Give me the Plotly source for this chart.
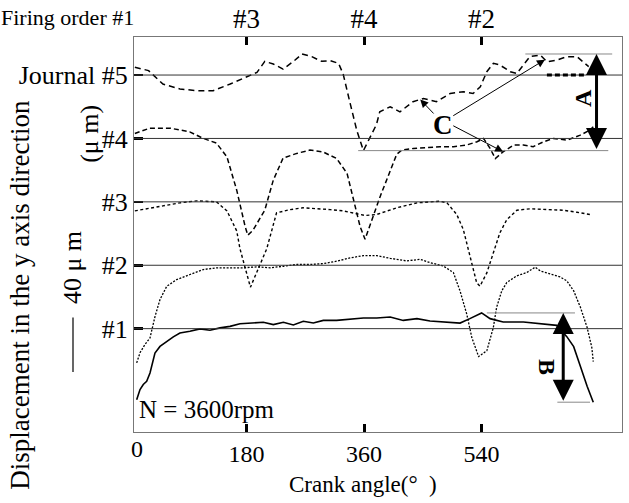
import numpy as np
import plotly.graph_objects as go

# ---------------- data (crank angle in deg, displacement in um relative to each journal baseline)
journal_labels = ["#1", "#2", "#3", "#4", "Journal #5"]
baseline_step = 50  # um between journal baselines
firing_ticks = [180, 360, 540]
firing_labels = ["#3", "#4", "#2"]
crank_ticks = [180, 360, 540]

x1 = [11.8, 16.9, 21.9, 27.1, 32.2, 39.8, 47.5, 57.8, 67.9, 78, 93.4, 108.8, 124, 139.4, 154.7, 170, 185.4,
      205.7, 221, 236.4, 251.7, 267, 282.3, 297.6, 318, 338.5, 359, 379.4, 400, 420, 441, 461, 481.5, 507, 522,
      540, 553, 573, 604, 635, 655, 670.5, 681, 691.5, 701.6, 711]
y1 = [-56, -48, -44, -41.6, -35, -19.2, -14, -10, -6.5, -3.4, -2.1, -0.2, -1.3, 0.6, 1.8, 3.9, 4.5, 5, 3.2, 5,
      2.9, 5.8, 4.5, 6.5, 6.5, 7.6, 8.4, 8.4, 9.2, 6.5, 7.9, 6, 5.2, 4.4, 7.9, 12.4, 7.9, 5.2, 5.2, 3.9, 2.6,
      -6.3, -14.2, -30, -45.5, -58]

x2 = [11.8, 16.9, 24.5, 32.2, 39.8, 47.5, 57.8, 73, 93.4, 113.8, 134.3, 154.7, 175, 195.6, 216, 236.4, 257, 277,
      297.6, 318, 338.5, 359, 379.4, 400, 425.4, 445.8, 461, 481.5, 496.8, 507, 517.3, 525, 532.6, 535.4, 548,
      558, 563, 571, 578.6, 594, 609, 622, 630, 645, 660, 670.5, 681, 691.5, 701.6, 708.8, 711]
y2 = [-77, -69, -62.5, -57.3, -40.6, -27, -16.6, -11.3, -7.3, -3.4, -2, -2, -2, -1.3, -2, -0.8, 0.6, 0.6, 1.3,
      3.2, 5.8, 7.6, 7.6, 5.5, 3.4, 4.7, 2.1, -0.6, -5.8, -20.3, -38.6, -57, -67.4, -72, -67.4, -49, -33.2, -20,
      -13.6, -8.3, -5.8, -1.5, -4.5, -7.1, -9.2, -12.3, -20.2, -33.4, -49.1, -64.9, -76]

x3 = [9, 32, 52, 78, 104, 134, 150, 165, 170, 186, 197.6, 211, 226, 247, 266.5, 287.5, 308, 328, 349, 361.5,
      379, 410, 441, 476, 487, 502, 512, 522, 532.5, 537.5, 548, 558, 568, 578.6, 594, 614, 640, 665, 686, 706]
y3 = [-7.1, -4.7, -3.2, -0.8, 0.8, 0, -7.1, -22.9, -37, -67.3, -53, -37, -8.7, -6.1, -4.7, -5.3, -6.1, -7.1,
      -9.2, -10.8, -10, -4.7, -0.8, 0.5, -0.8, -10, -21.8, -42.9, -63.9, -66.5, -56, -40.2, -24.4, -14, -6.6,
      -5.5, -6, -6.6, -8.2, -10]

x4 = [9, 32, 63, 93, 113, 134, 150, 165, 178, 182, 190, 208, 221, 236, 257, 277, 297, 318, 334, 343, 354, 361.5,
      385, 410, 418, 435.5, 456, 476, 497, 517, 533, 543, 553, 561, 573, 589, 604, 619, 635, 650, 671, 691, 706,
      711]
y4 = [3.9, 8.1, 8.1, 5.2, 0.2, -3.7, -14.5, -40.8, -69.7, -76.3, -72.3, -56.5, -32.9, -15.5, -11.8, -9.2,
      -10.6, -15.8, -27.6, -46, -69.6, -79.5, -45.3, -12.5, -9.1, -7.9, -7.3, -6.5, -6.5, -5.2, -2.6, 0, -7.9,
      -15.8, -10.5, -5.2, -5.2, -6.5, -2.6, 0, -1.3, 2.6, 6.6, 9.2]

x5 = [9, 30, 52, 78, 104, 129, 155, 180, 196, 208, 221, 236, 252, 265, 280, 295, 308, 321, 328, 339, 349, 359,
      369, 379, 384, 400, 415, 435, 451, 471, 492, 512, 527, 538, 548, 558, 568, 584, 594, 604, 614, 630, 640,
      655, 671, 686, 696, 704]
y5 = [6.1, 3.5, -7.1, -11, -12.3, -12.3, -7.1, -1.8, 2.1, 10.8, 8.7, 4.7, 10.8, 16.6, 14.5, 10.8, 11.4, 9.2,
      0.8, -22.9, -43.9, -59.6, -49, -39, -29, -25, -29, -21, -18.5, -21, -14.5, -13.2, -14.5, -9.2, 2.6, 9.2,
      7.9, 2.6, 1.3, 7.9, 14.5, 15.8, 10.5, 11.8, 14.5, 14.5, 10.5, 6.6]

# ---------------- figure
FONT = "Liberation Serif"
series = [
    (x1, y1, "solid", 1.6),
    (x2, y2, "2px,1.5px", 1.3),
    (x3, y3, "3px,2.5px", 1.4),
    (x4, y4, "5px,3px", 1.5),
    (x5, y5, "6px,4px", 1.5),
]
bases = [i * baseline_step for i in range(5)]

fig = go.Figure()
for (xs, ys, dash, w), base in zip(series, bases):
    fig.add_trace(go.Scatter(x=xs, y=[base + v for v in ys], mode="lines",
                             line=dict(color="black", width=w, dash=dash),
                             showlegend=False, hoverinfo="skip"))
# invisible trace to carry the top (firing order) axis
fig.add_trace(go.Scatter(x=[firing_ticks[0]], y=[None], xaxis="x2", showlegend=False,
                         hoverinfo="skip"))

shapes = []
for b in bases:
    shapes.append(dict(type="line", xref="paper", x0=0, x1=1, yref="y", y0=b, y1=b,
                       line=dict(color="#333", width=1)))

b5 = bases[4]
a_top = b5 + max(y5)
a_bot = b5 + min(y5)
b_top = bases[0] + max(y1)
b_bot = bases[0] + min(y1)
guide = dict(color="#888", width=1)
shapes += [
    dict(type="line", xref="x", yref="y", x0=607, x1=740, y0=a_top, y1=a_top, line=guide),
    dict(type="line", xref="x", yref="y", x0=351, x1=734, y0=a_bot, y1=a_bot, line=guide),
    dict(type="line", xref="x", yref="y", x0=548, x1=683, y0=b_top, y1=b_top, line=guide),
    dict(type="line", xref="x", yref="y", x0=656, x1=706, y0=b_bot, y1=b_bot, line=guide),
    dict(type="line", xref="x", yref="y", x0=640, x1=701, y0=b5, y1=b5,
         line=dict(color="black", width=3, dash="5px,3px")),
    # 40 um scale bar
    dict(type="line", xref="paper", yref="paper", x0=-0.125, x1=-0.125, y0=0.152, y1=0.29,
         line=dict(color="black", width=1.2)),
]

annotations = [
    dict(text="0", xref="x", x=12, yref="paper", y=0, xanchor="center", yanchor="top", yshift=-2,
         showarrow=False, font=dict(size=24)),
    dict(text="Firing order #1", xref="paper", x=0.004, xanchor="right", yref="paper", y=1.05,
         yanchor="middle", showarrow=False, font=dict(size=22)),
    dict(text="N = 3600rpm", xref="paper", x=0.006, xanchor="left", yref="paper", y=0.0557,
         yanchor="middle", showarrow=False, font=dict(size=25)),
    dict(text="Crank angle(°  )", xref="paper", x=0.469, xanchor="center", yref="paper", y=-0.134,
         yanchor="middle", showarrow=False, font=dict(size=23)),
    dict(text="Displacement in the y axis direction", xref="paper", x=-0.234, xanchor="center",
         yref="paper", y=0.347, yanchor="middle", textangle=-90, showarrow=False, font=dict(size=27)),
    dict(text="40 μ m", xref="paper", x=-0.127, xanchor="center", yref="paper", y=0.415,
         yanchor="middle", textangle=-90, showarrow=False, font=dict(size=26)),
    dict(text="(μ m)", xref="paper", x=-0.09, xanchor="center", yref="paper", y=0.755,
         yanchor="middle", textangle=-90, showarrow=False, font=dict(size=26)),
    dict(text="<b>C</b>", xref="x", x=481, yref="y", y=160.7, showarrow=False, font=dict(size=27)),
    dict(text="<b>A</b>", xref="x", x=695.5, yref="y", y=182, textangle=-90, showarrow=False,
         font=dict(size=24)),
    dict(text="<b>B</b>", xref="x", x=640, yref="y", y=-30.2, textangle=90, showarrow=False,
         font=dict(size=24)),
    # double arrows A and B
    dict(text="", xref="x", yref="y", x=716, y=a_top, axref="x", ayref="y", ax=716, ay=a_bot,
         showarrow=True, arrowside="end+start", arrowhead=2, startarrowhead=2, arrowwidth=3,
         arrowsize=1.4, startarrowsize=1.4, arrowcolor="black"),
    dict(text="", xref="x", yref="y", x=665, y=b_top, axref="x", ayref="y", ax=665, ay=b_bot,
         showarrow=True, arrowside="end+start", arrowhead=2, startarrowhead=2, arrowwidth=3,
         arrowsize=1.4, startarrowsize=1.4, arrowcolor="black"),
]
# C arrows pointing at curve features
for ang, xs, ys, base, tail in [(446, x5, y5, b5, (468.7, 168.5)),
                                (637, x5, y5, b5, (494.3, 167.2)),
                                (573, x4, y4, bases[3], (494.3, 160.6))]:
    tip_y = base + float(np.interp(ang, xs, ys))
    annotations.append(dict(text="", xref="x", yref="y", x=ang, y=tip_y, axref="x", ayref="y",
                            ax=tail[0], ay=tail[1], showarrow=True, arrowhead=2, arrowsize=1.6,
                            arrowwidth=1, arrowcolor="black"))

fig.update_layout(
    width=629, height=503,
    margin=dict(l=134, r=7, t=37, b=71, autoexpand=False),
    paper_bgcolor="white", plot_bgcolor="white",
    font=dict(family=FONT, color="black", size=23),
    xaxis=dict(range=[7.7, 755], tickvals=crank_ticks, ticktext=[str(t) for t in crank_ticks],
               ticks="inside", ticklen=8, tickwidth=3, tickcolor="black",
               showline=True, linecolor="#777", linewidth=1, mirror=True,
               showgrid=False, zeroline=False, tickfont=dict(size=24)),
    xaxis2=dict(overlaying="x", side="top", matches="x", range=[7.7, 755],
                tickvals=firing_ticks, ticktext=firing_labels,
                ticks="inside", ticklen=8, tickwidth=3, tickcolor="black", ticklabelstandoff=3,
                showline=False, showgrid=False, zeroline=False, tickfont=dict(size=27)),
    yaxis=dict(range=[-81.5, 230], tickvals=bases, ticktext=journal_labels,
               ticks="inside", ticklen=9, tickwidth=2.5, tickcolor="black",
               showline=True, linecolor="#777", linewidth=1, mirror=True,
               showgrid=False, zeroline=False, tickfont=dict(size=26)),
    shapes=shapes, annotations=annotations,
    hovermode=False,
)

fig.write_html("out.html", config={"displayModeBar": False, "staticPlot": True},
               post_script="document.body.style.margin='0';document.body.style.padding='0';")
